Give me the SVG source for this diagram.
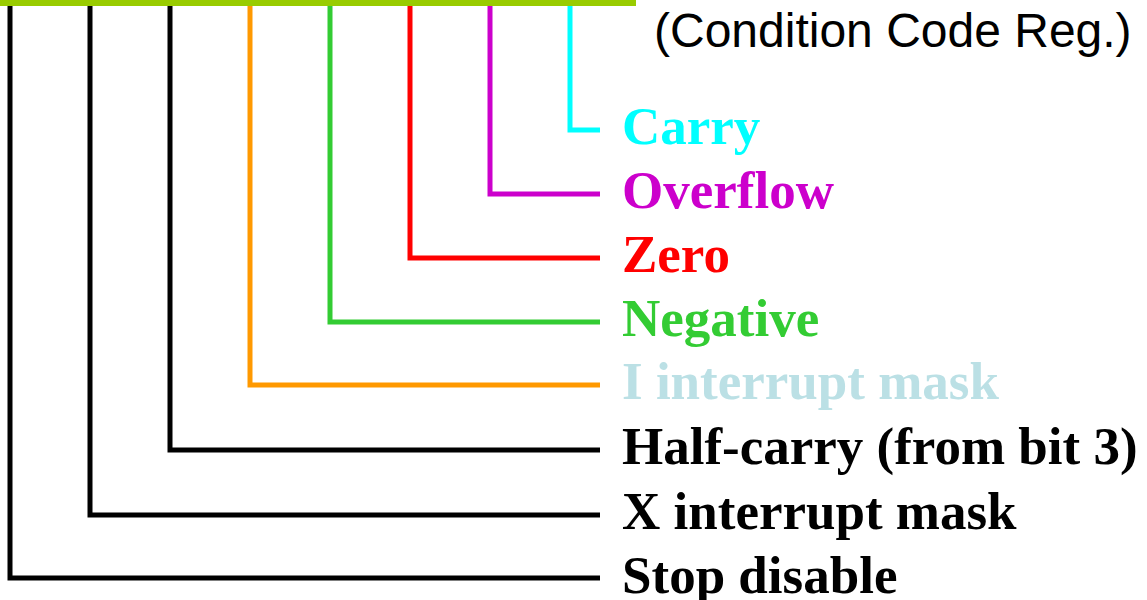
<svg xmlns="http://www.w3.org/2000/svg" width="1147" height="600" viewBox="0 0 1147 600">
<style>
.c{fill:none;stroke-width:5;stroke-linejoin:miter;stroke-linecap:butt}
.l{font-family:"Liberation Serif","Times New Roman",serif;font-weight:bold;font-size:53px}
.t{font-family:"Liberation Sans",Arial,sans-serif;font-size:48px;fill:#000}
</style>
<rect width="1147" height="600" fill="#fff"/>
<g id="connectors">
<polyline class="c" stroke="#00FFFF" points="570,5 570,130 600,130"/>
<polyline class="c" stroke="#CC00CC" points="490,5 490,194 600,194"/>
<polyline class="c" stroke="#FF0000" points="410,5 410,258 600,258"/>
<polyline class="c" stroke="#33CC33" points="330,5 330,322 600,322"/>
<polyline class="c" stroke="#FF9900" points="250,3 250,385 600,385"/>
<polyline class="c" stroke="#000" points="170,3 170,450 600,450"/>
<polyline class="c" stroke="#000" points="90,3 90,515 600,515"/>
<polyline class="c" stroke="#000" points="10,3 10,578 600,578"/>
</g>
<g id="register"><rect x="0" y="0" width="636" height="6" fill="#99CC00"/></g>
<g id="title"><text class="t" x="654" y="47">(Condition Code Reg.)</text></g>
<g id="carry"><text class="l" x="622" y="144" fill="#00FFFF">Carry</text></g>
<g id="overflow"><text class="l" x="622" y="208" fill="#CC00CC">Overflow</text></g>
<g id="zero"><text class="l" x="622" y="272" fill="#FF0000">Zero</text></g>
<g id="negative"><text class="l" x="622" y="336" fill="#33CC33">Negative</text></g>
<g id="imask"><text class="l" x="622" y="399" fill="#BBE0E5">I interrupt mask</text></g>
<g id="halfcarry"><text class="l" x="622" y="464" fill="#000">Half-carry (from bit 3)</text></g>
<g id="xmask"><text class="l" x="622" y="529" fill="#000">X interrupt mask</text></g>
<g id="stop"><text class="l" x="622" y="593" fill="#000">Stop disable</text></g>
</svg>
